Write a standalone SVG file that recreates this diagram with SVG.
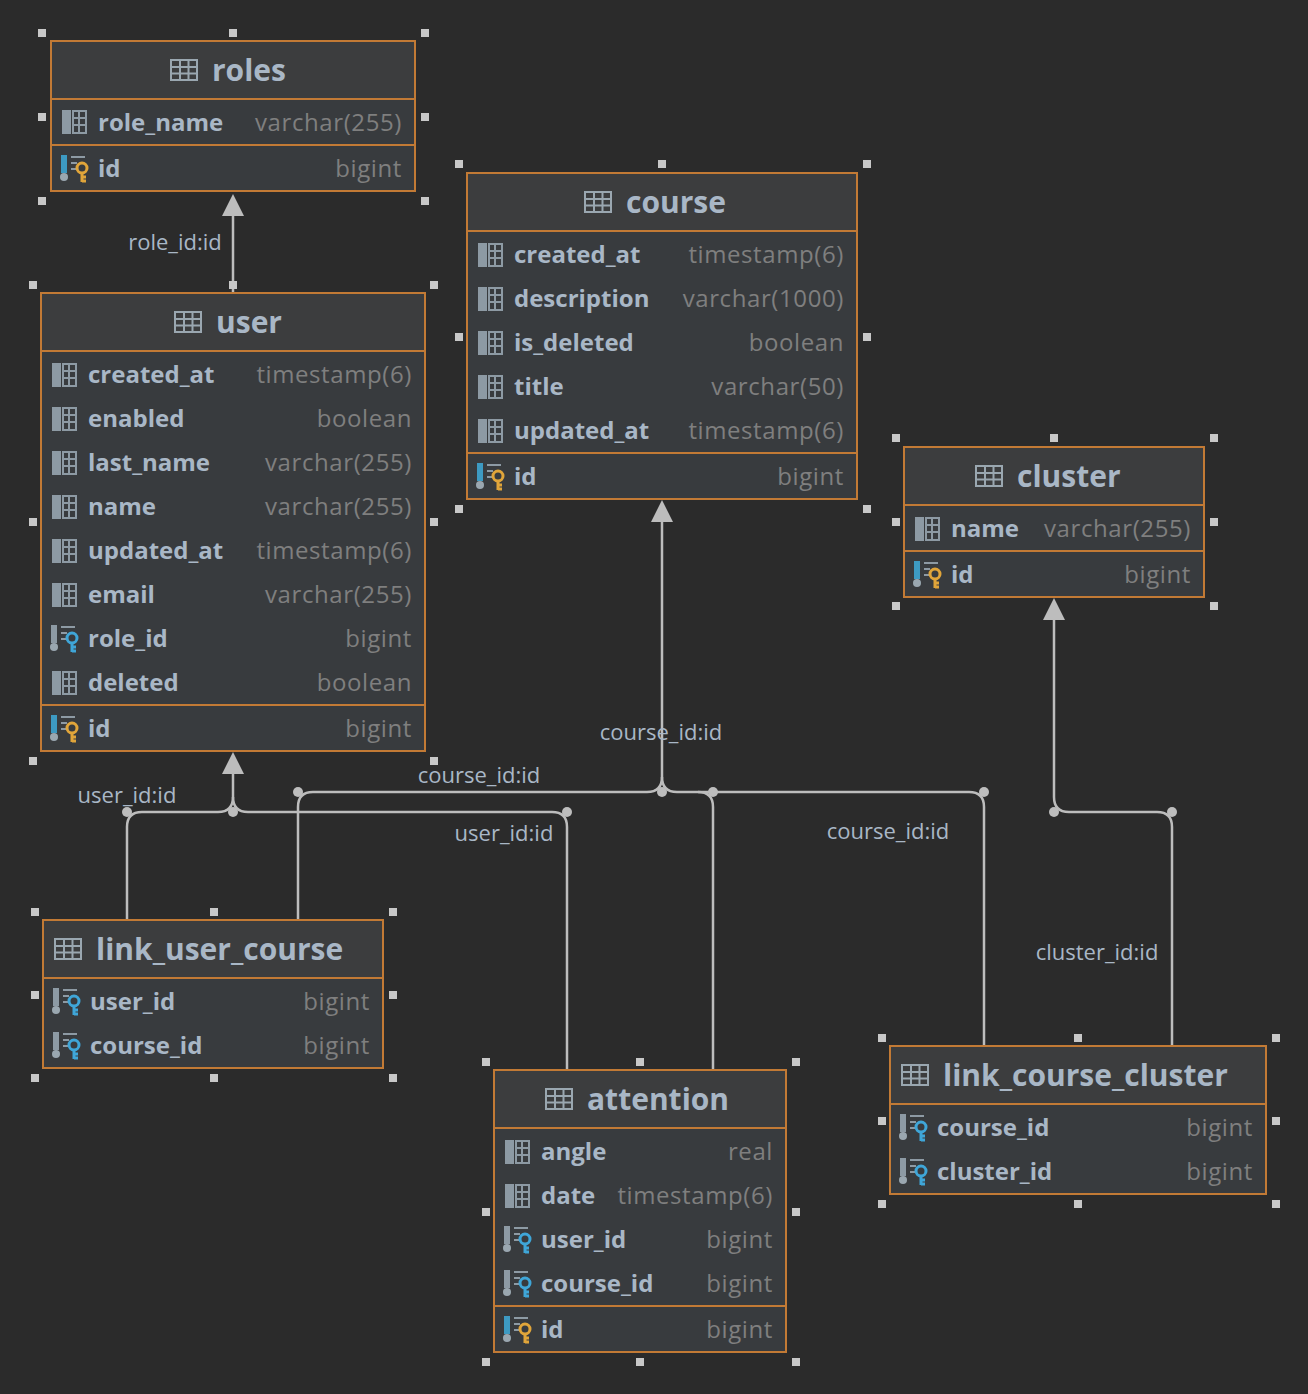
<svg xmlns="http://www.w3.org/2000/svg" width="1308" height="1394" viewBox="0 0 1308 1394">
<style>
.hd{fill:#3c3d3e}.rw{fill:#383b3e}.bx{fill:none;stroke:#c27a35;stroke-width:2}.sep{stroke:#c27a35;stroke-width:2}
.t{font-family:"Open Sans","Liberation Sans",sans-serif;font-weight:bold;font-size:30px;fill:#a9b7c6}
.c{font-family:"Open Sans","Liberation Sans",sans-serif;font-weight:bold;font-size:24px;fill:#a9b7c6}
.ty{font-family:"Open Sans","Liberation Sans",sans-serif;font-size:24px;letter-spacing:0.6px;fill:#7f7f7f;text-anchor:end}
.lb{font-family:"Open Sans","Liberation Sans",sans-serif;font-size:22px;fill:#a9b7c6;text-anchor:middle}
.h{fill:#c8c8c8}
.ln{fill:none;stroke:#bdbdbd;stroke-width:2.5}
.dot{fill:#bdbdbd}
</style>
<defs>
<g id="tbl"><rect x="0" y="0" width="26" height="20" fill="none" stroke="#9aa7b0" stroke-width="2"/><path d="M0 7H26M0 13.5H26M9 0V20M17.5 0V20" stroke="#9aa7b0" stroke-width="2"/></g>
<g id="col"><rect x="0" y="0" width="9" height="24" fill="#8d9aa4"/><rect x="11" y="1" width="13" height="22" fill="none" stroke="#8d9aa4" stroke-width="2"/><path d="M11 8H24M11 15H24M17 1V23" stroke="#8d9aa4" stroke-width="2"/></g>
<g id="pk"><rect x="0" y="0" width="6" height="18" fill="#3d9ac2"/><circle cx="3" cy="22" r="4" fill="#9aa7b0"/><path d="M10 2H24M10 8H16M10 14H16" stroke="#8d9aa4" stroke-width="2"/><circle cx="21" cy="13" r="5" fill="none" stroke="#e0a53a" stroke-width="3"/><path d="M21 18V27M21 22H25M21 26H25" stroke="#e0a53a" stroke-width="3"/></g>
<g id="fk"><rect x="0" y="0" width="6" height="18" fill="#8d9aa4"/><circle cx="3" cy="22" r="4" fill="#9aa7b0"/><path d="M10 2H24M10 8H16M10 14H16" stroke="#8d9aa4" stroke-width="2"/><circle cx="21" cy="13" r="5" fill="none" stroke="#3fa6d8" stroke-width="3"/><path d="M21 18V27M21 22H25M21 26H25" stroke="#3fa6d8" stroke-width="3"/></g>
<path id="arr" d="M0 0L-11 22H11Z" fill="#bdbdbd"/>
</defs>
<rect width="1308" height="1394" fill="#2b2b2b"/>

<g id="connectors">
<path class="ln" d="M233 293V205"/><use href="#arr" x="233" y="194"/>
<path class="ln" d="M233 762V797Q233 812 218 812H142Q127 812 127 827V920"/>
<path class="ln" d="M233 797Q233 812 248 812H552Q567 812 567 827V1070"/>
<use href="#arr" x="233" y="752"/>
<circle class="dot" cx="127" cy="812" r="5"/><circle class="dot" cx="233" cy="812" r="5"/><circle class="dot" cx="567" cy="812" r="5"/>
<path class="ln" d="M662 510V777Q662 792 647 792H313Q298 792 298 807V920"/>
<path class="ln" d="M662 777Q662 792 677 792H969Q984 792 984 807V1046"/>
<path class="ln" d="M698 792Q713 792 713 807V1070"/>
<use href="#arr" x="662" y="500"/>
<circle class="dot" cx="298" cy="792" r="5"/><circle class="dot" cx="662" cy="792" r="5"/><circle class="dot" cx="713" cy="792" r="5"/><circle class="dot" cx="984" cy="792" r="5"/>
<path class="ln" d="M1054 608V797Q1054 812 1069 812H1157Q1172 812 1172 827V1046"/>
<use href="#arr" x="1054" y="598"/>
<circle class="dot" cx="1054" cy="812" r="5"/><circle class="dot" cx="1172" cy="812" r="5"/>
<text class="lb" x="175" y="250">role_id:id</text>
<text class="lb" x="661" y="740">course_id:id</text>
<text class="lb" x="479" y="783">course_id:id</text>
<text class="lb" x="888" y="839">course_id:id</text>
<text class="lb" x="127" y="803">user_id:id</text>
<text class="lb" x="504" y="841">user_id:id</text>
<text class="lb" x="1097" y="960">cluster_id:id</text>
</g>

<g id="roles">
<rect class="hd" x="51" y="41" width="364" height="58"/><rect class="rw" x="51" y="99" width="364" height="92"/>
<line class="sep" x1="51" y1="99" x2="415" y2="99"/><line class="sep" x1="51" y1="145" x2="415" y2="145"/><rect class="bx" x="51" y="41" width="364" height="150"/>
<use href="#tbl" x="171" y="60"/><text class="t" x="212" y="81">roles</text>
<use href="#col" x="62" y="110"/><text class="c" x="98" y="131">role_name</text><text class="ty" x="402" y="131">varchar(255)</text>
<use href="#pk" x="61" y="155"/><text class="c" x="98" y="177">id</text><text class="ty" x="402" y="177">bigint</text>
<g class="h"><rect x="38" y="29" width="8" height="8"/><rect x="229" y="29" width="8" height="8"/><rect x="421" y="29" width="8" height="8"/><rect x="38" y="113" width="8" height="8"/><rect x="421" y="113" width="8" height="8"/><rect x="38" y="197" width="8" height="8"/><rect x="421" y="197" width="8" height="8"/></g>
</g>

<g id="course">
<rect class="hd" x="467" y="173" width="390" height="58"/><rect class="rw" x="467" y="231" width="390" height="268"/>
<line class="sep" x1="467" y1="231" x2="857" y2="231"/><line class="sep" x1="467" y1="453" x2="857" y2="453"/><rect class="bx" x="467" y="173" width="390" height="326"/>
<use href="#tbl" x="585" y="192"/><text class="t" x="626" y="213">course</text>
<use href="#col" x="478" y="243"/><text class="c" x="514" y="263">created_at</text><text class="ty" x="844" y="263">timestamp(6)</text>
<use href="#col" x="478" y="287"/><text class="c" x="514" y="307">description</text><text class="ty" x="844" y="307">varchar(1000)</text>
<use href="#col" x="478" y="331"/><text class="c" x="514" y="351">is_deleted</text><text class="ty" x="844" y="351">boolean</text>
<use href="#col" x="478" y="375"/><text class="c" x="514" y="395">title</text><text class="ty" x="844" y="395">varchar(50)</text>
<use href="#col" x="478" y="419"/><text class="c" x="514" y="439">updated_at</text><text class="ty" x="844" y="439">timestamp(6)</text>
<use href="#pk" x="477" y="463"/><text class="c" x="514" y="485">id</text><text class="ty" x="844" y="485">bigint</text>
<g class="h"><rect x="455" y="160" width="8" height="8"/><rect x="658" y="160" width="8" height="8"/><rect x="863" y="160" width="8" height="8"/><rect x="455" y="333" width="8" height="8"/><rect x="863" y="333" width="8" height="8"/><rect x="455" y="505" width="8" height="8"/><rect x="863" y="505" width="8" height="8"/></g>
</g>

<g id="user">
<rect class="hd" x="41" y="293" width="384" height="58"/><rect class="rw" x="41" y="351" width="384" height="400"/>
<line class="sep" x1="41" y1="351" x2="425" y2="351"/><line class="sep" x1="41" y1="705" x2="425" y2="705"/><rect class="bx" x="41" y="293" width="384" height="458"/>
<use href="#tbl" x="175" y="312"/><text class="t" x="216" y="333">user</text>
<use href="#col" x="52" y="363"/><text class="c" x="88" y="383">created_at</text><text class="ty" x="412" y="383">timestamp(6)</text>
<use href="#col" x="52" y="407"/><text class="c" x="88" y="427">enabled</text><text class="ty" x="412" y="427">boolean</text>
<use href="#col" x="52" y="451"/><text class="c" x="88" y="471">last_name</text><text class="ty" x="412" y="471">varchar(255)</text>
<use href="#col" x="52" y="495"/><text class="c" x="88" y="515">name</text><text class="ty" x="412" y="515">varchar(255)</text>
<use href="#col" x="52" y="539"/><text class="c" x="88" y="559">updated_at</text><text class="ty" x="412" y="559">timestamp(6)</text>
<use href="#col" x="52" y="583"/><text class="c" x="88" y="603">email</text><text class="ty" x="412" y="603">varchar(255)</text>
<use href="#fk" x="51" y="625"/><text class="c" x="88" y="647">role_id</text><text class="ty" x="412" y="647">bigint</text>
<use href="#col" x="52" y="671"/><text class="c" x="88" y="691">deleted</text><text class="ty" x="412" y="691">boolean</text>
<use href="#pk" x="51" y="715"/><text class="c" x="88" y="737">id</text><text class="ty" x="412" y="737">bigint</text>
<g class="h"><rect x="29" y="281" width="8" height="8"/><rect x="229" y="281" width="8" height="8"/><rect x="430" y="281" width="8" height="8"/><rect x="29" y="518" width="8" height="8"/><rect x="430" y="518" width="8" height="8"/><rect x="29" y="757" width="8" height="8"/><rect x="430" y="757" width="8" height="8"/></g>
</g>

<g id="cluster">
<rect class="hd" x="904" y="447" width="300" height="58"/><rect class="rw" x="904" y="505" width="300" height="92"/>
<line class="sep" x1="904" y1="505" x2="1204" y2="505"/><line class="sep" x1="904" y1="551" x2="1204" y2="551"/><rect class="bx" x="904" y="447" width="300" height="150"/>
<use href="#tbl" x="976" y="466"/><text class="t" x="1017" y="487">cluster</text>
<use href="#col" x="915" y="517"/><text class="c" x="951" y="537">name</text><text class="ty" x="1191" y="537">varchar(255)</text>
<use href="#pk" x="914" y="561"/><text class="c" x="951" y="583">id</text><text class="ty" x="1191" y="583">bigint</text>
<g class="h"><rect x="892" y="434" width="8" height="8"/><rect x="1050" y="434" width="8" height="8"/><rect x="1210" y="434" width="8" height="8"/><rect x="892" y="518" width="8" height="8"/><rect x="1210" y="518" width="8" height="8"/><rect x="892" y="602" width="8" height="8"/><rect x="1210" y="602" width="8" height="8"/></g>
</g>

<g id="link_user_course">
<rect class="hd" x="43" y="920" width="340" height="58"/><rect class="rw" x="43" y="978" width="340" height="90"/>
<line class="sep" x1="43" y1="978" x2="383" y2="978"/><rect class="bx" x="43" y="920" width="340" height="148"/>
<use href="#tbl" x="55" y="939"/><text class="t" x="96" y="960">link_user_course</text>
<use href="#fk" x="53" y="988"/><text class="c" x="90" y="1010">user_id</text><text class="ty" x="370" y="1010">bigint</text>
<use href="#fk" x="53" y="1032"/><text class="c" x="90" y="1054">course_id</text><text class="ty" x="370" y="1054">bigint</text>
<g class="h"><rect x="31" y="908" width="8" height="8"/><rect x="210" y="908" width="8" height="8"/><rect x="389" y="908" width="8" height="8"/><rect x="31" y="991" width="8" height="8"/><rect x="389" y="991" width="8" height="8"/><rect x="31" y="1074" width="8" height="8"/><rect x="210" y="1074" width="8" height="8"/><rect x="389" y="1074" width="8" height="8"/></g>
</g>

<g id="attention">
<rect class="hd" x="494" y="1070" width="292" height="58"/><rect class="rw" x="494" y="1128" width="292" height="224"/>
<line class="sep" x1="494" y1="1128" x2="786" y2="1128"/><line class="sep" x1="494" y1="1306" x2="786" y2="1306"/><rect class="bx" x="494" y="1070" width="292" height="282"/>
<use href="#tbl" x="546" y="1089"/><text class="t" x="587" y="1110">attention</text>
<use href="#col" x="505" y="1140"/><text class="c" x="541" y="1160">angle</text><text class="ty" x="773" y="1160">real</text>
<use href="#col" x="505" y="1184"/><text class="c" x="541" y="1204">date</text><text class="ty" x="773" y="1204">timestamp(6)</text>
<use href="#fk" x="504" y="1226"/><text class="c" x="541" y="1248">user_id</text><text class="ty" x="773" y="1248">bigint</text>
<use href="#fk" x="504" y="1270"/><text class="c" x="541" y="1292">course_id</text><text class="ty" x="773" y="1292">bigint</text>
<use href="#pk" x="504" y="1316"/><text class="c" x="541" y="1338">id</text><text class="ty" x="773" y="1338">bigint</text>
<g class="h"><rect x="482" y="1058" width="8" height="8"/><rect x="636" y="1058" width="8" height="8"/><rect x="792" y="1058" width="8" height="8"/><rect x="482" y="1208" width="8" height="8"/><rect x="792" y="1208" width="8" height="8"/><rect x="482" y="1358" width="8" height="8"/><rect x="636" y="1358" width="8" height="8"/><rect x="792" y="1358" width="8" height="8"/></g>
</g>

<g id="link_course_cluster">
<rect class="hd" x="890" y="1046" width="376" height="58"/><rect class="rw" x="890" y="1104" width="376" height="90"/>
<line class="sep" x1="890" y1="1104" x2="1266" y2="1104"/><rect class="bx" x="890" y="1046" width="376" height="148"/>
<use href="#tbl" x="902" y="1065"/><text class="t" x="943" y="1086">link_course_cluster</text>
<use href="#fk" x="900" y="1114"/><text class="c" x="937" y="1136">course_id</text><text class="ty" x="1253" y="1136">bigint</text>
<use href="#fk" x="900" y="1158"/><text class="c" x="937" y="1180">cluster_id</text><text class="ty" x="1253" y="1180">bigint</text>
<g class="h"><rect x="878" y="1034" width="8" height="8"/><rect x="1074" y="1034" width="8" height="8"/><rect x="1272" y="1034" width="8" height="8"/><rect x="878" y="1117" width="8" height="8"/><rect x="1272" y="1117" width="8" height="8"/><rect x="878" y="1200" width="8" height="8"/><rect x="1074" y="1200" width="8" height="8"/><rect x="1272" y="1200" width="8" height="8"/></g>
</g>
</svg>
